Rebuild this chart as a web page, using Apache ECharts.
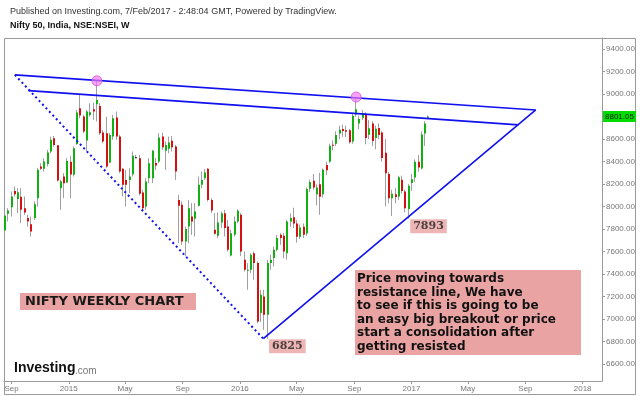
<!DOCTYPE html>
<html><head><meta charset="utf-8">
<script src="https://cdn.jsdelivr.net/npm/echarts@6/dist/echarts.min.js"></script>
<style>html,body{margin:0;padding:0;background:#fff}#c{width:640px;height:396px}</style>
</head><body><div id="c"></div>
<script>
// ---- data ----
const firstWeek = '2014-08-18';
const open  = [7788,7936,7995,8140,8069,8087,7986,7898,7844,7898,8075,8357,8336,8380,8490,8609,8546,8164,8268,8215,
               8400,8283,8558,8875,8801,8588,8816,8866,8911,8896,8659,8653,8392,8623,8792,8623,8336,8238,8238,8289,
               8440,8431,8126,8001,8253,8253,8389,8401,8623,8496,8514,8585,8535,8060,8016,7690,7823,7912,7892,8007,
               8194,8253,8336,8060,7794,7740,7859,7942,7823,7566,7749,7868,7927,7527,7429,7438,7586,7498,7053,7201,
               7038,7498,7542,7616,7749,7740,7586,7868,7905,7850,7733,7820,7760,8160,8230,8110,8200,8110,8370,8400,
               8550,8560,8650,8690,8680,8680,8579,8820,8740,8790,8820,8640,8740,8610,8700,8660,8480,8290,8075,8110,
               8090,8240,8134,7980,8210,8260,8400,8340,8650,8790];
const high  = [7925,7986,8135,8179,8164,8164,8090,7927,7912,8046,8342,8386,8431,8505,8623,8629,8549,8238,8298,8431,
               8452,8535,8860,8994,8816,8860,8920,8926,9119,8920,8683,8801,8653,8816,8846,8638,8342,8327,8342,8490,
               8460,8460,8150,8253,8431,8505,8431,8653,8659,8579,8623,8629,8549,8105,8046,7823,8060,8031,8031,8268,
               8312,8333,8342,8075,7942,7948,7957,7972,7883,7794,7912,7977,7942,7601,7498,7586,7601,7512,7260,7260,
               7527,7572,7646,7749,7764,7764,7883,7940,7990,7880,7840,7850,8170,8240,8290,8200,8300,8340,8400,8560,
               8590,8670,8720,8730,8720,8690,8830,8968,8810,8860,8840,8770,8760,8720,8740,8670,8600,8310,8150,8165,
               8275,8275,8150,8200,8290,8420,8460,8670,8760,8810];
const low   = [7780,7868,7912,8090,7942,7853,7927,7823,7734,7883,8001,8327,8312,8357,8475,8535,8223,7972,8075,8209,
               8075,8268,8549,8786,8653,8490,8801,8772,8757,8638,8564,8342,8386,8594,8594,8298,8090,8001,8120,8268,
               8431,8100,7972,7972,8209,8209,8327,8386,8505,8327,8475,8490,8238,7675,7660,7557,7675,7749,7734,8001,
               8164,8238,8046,7942,7749,7720,7809,7734,7601,7557,7734,7853,7560,7423,7260,7409,7349,6964,6973,6905,
               6825,7438,7468,7601,7660,7540,7527,7820,7810,7680,7710,7720,7740,8130,8150,8010,7927,8080,8280,8390,
               8500,8540,8600,8620,8620,8560,8560,8800,8690,8770,8555,8600,8540,8510,8600,8400,8002,8030,7916,8030,
               8060,8115,7950,7893,8140,8220,8310,8330,8540,8780];
const close = [7921,7966,8090,8111,8129,7972,7948,7868,7779,8022,8327,8336,8401,8481,8594,8549,8232,8226,8209,8407,
               8285,8520,8837,8810,8668,8846,8840,8846,8949,8653,8579,8357,8638,8786,8623,8312,8194,8194,8268,8452,
               8440,8114,7986,8223,8386,8496,8366,8615,8529,8549,8570,8529,8312,8007,7690,7800,7986,7868,7957,8194,
               8238,8303,8060,7966,7758,7859,7942,7809,7616,7764,7868,7963,7601,7438,7438,7572,7498,6979,7216,7038,
               7498,7527,7616,7720,7720,7600,7868,7899,7850,7733,7814,7749,8156,8220,8170,8170,8089,8328,8323,8541,
               8541,8638,8683,8672,8666,8572,8809,8866,8779,8831,8611,8697,8583,8693,8638,8433,8296,8074,8114,8086,
               8261,8139,7985,8185,8243,8400,8349,8641,8740,8801.05];
const lastPrice = 8801.05;

const upperResistance = [['2014-09-08', 9172], ['2017-09-23', 8860]];
const lowerResistance = [['2014-10-07', 9032], ['2017-08-17', 8727]];
const fallingSupport  = [['2014-09-08', 9172], ['2016-02-20', 6825]];
const risingSupport   = [['2016-02-20', 6825], ['2017-09-23', 8860]];

const peakDates  = ['2015-03-02', '2016-09-05'];
const peakValues = [9119, 8975];
const lowDates   = ['2016-02-29', '2016-12-26'];
const lowValues  = [6825, 7893];

const xTickDates  = ['2014-09-01','2015-01-01','2015-05-01','2015-09-01','2016-01-01','2016-05-01','2016-09-01','2017-01-01','2017-05-01','2017-09-01','2018-01-01'];
const xTickLabels = ['Sep','2015','May','Sep','2016','May','Sep','2017','May','Sep','2018'];
const yTickValues = [6600,6800,7000,7200,7400,7600,7800,8000,8200,8400,8600,8800,9000,9200,9400];

// ---- build ----
const DAY = 86400000, WEEK = 7 * DAY;
const ts = s => Date.parse(s + 'T00:00:00Z');
const start = ts(firstWeek);
const candles = open.map((o, i) => [start + i * WEEK, o, high[i], low[i], close[i]]);
const toPts = arr => arr.map(p => [ts(p[0]), p[1]]);
const xTickTimes = xTickDates.map(ts);
const labelFor = v => {
  let best = '', bd = Infinity;
  xTickTimes.forEach((t, i) => { const d = Math.abs(t - v); if (d < bd) { bd = d; best = xTickLabels[i]; } });
  return bd < DAY ? best : '';
};

const UP = '#12b012', DOWN = '#d41010', WICK = '#a0a0a0', DOJI = '#111';
const BLUE = '#1010f0';

const chart = echarts.init(document.getElementById('c'), null, {renderer: 'canvas'});
const lineSeries = (data, dashed) => ({
  type: 'line', data: toPts(data), symbol: 'none', silent: true, z: 5,
  lineStyle: {color: BLUE, width: dashed ? 2 : 1.6, type: dashed ? [2, 3] : 'solid'}
});

chart.setOption({
  animation: false,
  backgroundColor: '#fff',
  grid: {left: 4, right: 38, top: 38, bottom: 15, containLabel: false},
  xAxis: {
    type: 'value',
    min: start - 2.13 * DAY,
    max: start + 1273.3 * DAY,
    splitLine: {show: false},
    axisLine: {lineStyle: {color: '#999', width: 1}},
    axisTick: {show: true, customValues: xTickTimes, length: 3, lineStyle: {color: '#999'}},
    axisLabel: {customValues: xTickTimes, formatter: v => labelFor(v), color: '#777',
                fontSize: 8, fontFamily: 'Liberation Sans', margin: 4, hideOverlap: false}
  },
  yAxis: {
    type: 'value', position: 'right', min: 6449, max: 9500,
    splitLine: {show: false},
    axisLine: {show: true, lineStyle: {color: '#999', width: 1}},
    axisTick: {show: true, customValues: yTickValues, length: 3, lineStyle: {color: '#999'}},
    axisLabel: {customValues: yTickValues, formatter: v => Number(v).toFixed(2), color: '#777',
                fontSize: 8, fontFamily: 'Liberation Sans', margin: 4}
  },
  series: [
    {
      type: 'custom', data: candles, clip: true, z: 3,
      encode: {x: 0, y: [1, 2, 3, 4]},
      renderItem: function (params, api) {
        const t = api.value(0), o = api.value(1), h = api.value(2), l = api.value(3), c = api.value(4);
        const pO = api.coord([t, o]), pC = api.coord([t, c]), pH = api.coord([t, h]), pL = api.coord([t, l]);
        const X = Math.round(pO[0] - 1);
        const top = Math.min(pO[1], pC[1]), bot = Math.max(pO[1], pC[1]);
        const col = c > o ? UP : (c < o ? DOWN : DOJI);
        return {type: 'group', children: [
          {type: 'line', shape: {x1: X + 0.5, y1: pH[1], x2: X + 0.5, y2: pL[1]}, style: {stroke: WICK, lineWidth: 1}},
          {type: 'rect', shape: {x: X, y: top, width: 2, height: Math.max(1, bot - top)}, style: {fill: col}}
        ]};
      }
    },
    {
      type: 'line', data: [], silent: true, z: 8,
      markLine: {
        silent: true, symbol: 'none',
        lineStyle: {color: 'rgba(0,0,0,0)', width: 0},
        label: {show: true, position: 'end', distance: 1, formatter: () => lastPrice.toFixed(2),
                backgroundColor: '#00dc00', color: '#1a1a1a', fontSize: 8, fontFamily: 'Liberation Sans',
                padding: [2, 2, 1, 2]},
        data: [{yAxis: lastPrice}]
      }
    },
    lineSeries(upperResistance, false),
    lineSeries(lowerResistance, false),
    lineSeries(fallingSupport, true),
    lineSeries(risingSupport, false),
    {
      type: 'scatter', z: 6, silent: true, symbolSize: 10,
      data: peakDates.map((d, i) => [ts(d), peakValues[i]]),
      itemStyle: {color: 'rgba(240,120,240,0.85)', borderColor: '#e050e0', borderWidth: 1}
    },
    {
      type: 'scatter', z: 7, silent: true, symbolSize: 1,
      data: lowDates.map((d, i) => [ts(d), lowValues[i]]),
      itemStyle: {color: 'rgba(0,0,0,0)'},
      label: {show: true, formatter: p => String(p.value[1]),
              position: [2, 1], align: 'left', verticalAlign: 'top',
              backgroundColor: '#eaa3a3', color: '#222', fontSize: 11, fontWeight: 'bold',
              fontFamily: 'DejaVu Serif', padding: [1, 3, 1, 3], lineHeight: 12}
    }
  ],
  graphic: [
    {type: 'rect', silent: true, z: 0, shape: {x: 4.5, y: 38.5, width: 631, height: 356},
     style: {fill: 'none', stroke: '#999', lineWidth: 1}},
    {type: 'text', left: 10, top: 7, silent: true,
     style: {text: 'Published on Investing.com, 7/Feb/2017 - 2:48:04 GMT, Powered by TradingView.',
             fill: '#333', font: '9px "Liberation Sans"'}},
    {type: 'text', left: 10, top: 21, silent: true,
     style: {text: 'Nifty 50, India, NSE:NSEI, W', fill: '#111', font: 'bold 9px "Liberation Sans"'}},
    {type: 'rect', silent: true, z: 10, shape: {x: 20, y: 293, width: 176, height: 17}, style: {fill: '#eaa3a3'}},
    {type: 'text', silent: true, z: 11, left: 25, top: 295,
     style: {text: 'NIFTY WEEKLY CHART', fill: '#1a1a1a', font: 'bold 13px "DejaVu Sans"'}},
    {type: 'rect', silent: true, z: 10, shape: {x: 355, y: 270, width: 226, height: 85}, style: {fill: '#eaa3a3'}},
    {type: 'text', silent: true, z: 11, left: 357, top: 272,
     style: {text: 'Price moving towards\nresistance line, We have\nto see if this is going to be\nan easy big breakout or price\nstart a consolidation after\ngetting resisted',
             fill: '#111', font: 'bold 12px "DejaVu Sans"', lineHeight: 13.6}},
    {type: 'text', silent: true, z: 11, left: 14, top: 361,
     style: {text: 'Investing', fill: '#111', font: 'bold 14px "Liberation Sans"'}},
    {type: 'text', silent: true, z: 11, left: 75, top: 366,
     style: {text: '.com', fill: '#777', font: '10px "Liberation Sans"'}}
  ]
});
</script></body></html>
